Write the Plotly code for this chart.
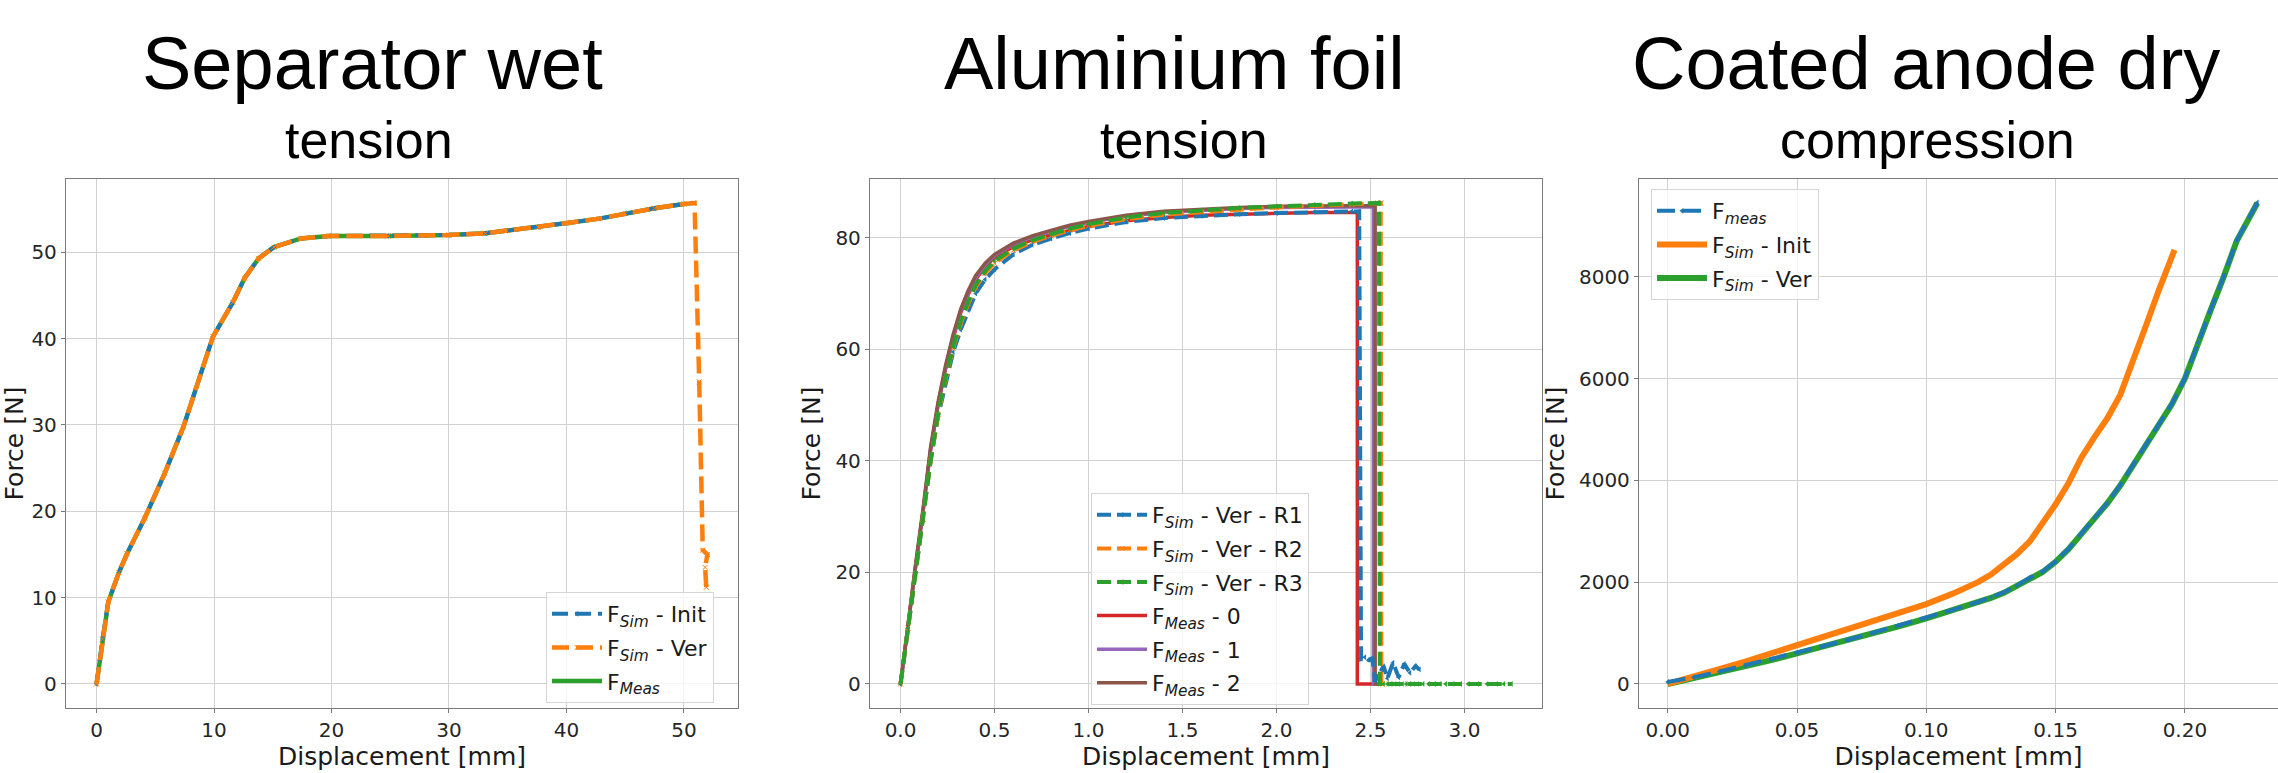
import plotly.graph_objects as go

# ---------------- data ----------------
# Separator wet (tension)
sep_x = [0, 0.5, 1.0, 1.9, 2.6, 4.1, 5.8, 7.4, 9.9, 11.6, 12.6, 13.8, 15.1, 17.4, 19.8,
         24.8, 30.0, 33.1, 34.9, 37.6, 40.1, 42.8, 45.0, 47.5, 50.0, 50.9]
sep_f = [0, 5.2, 9.5, 12.9, 15.1, 19.2, 24.4, 29.8, 40.2, 44.2, 47.0, 49.3, 50.6, 51.6, 51.9,
         51.9, 52.0, 52.2, 52.5, 52.9, 53.4, 53.9, 54.5, 55.1, 55.6, 55.7]
sep_ver_tail_x = [51.3, 51.6, 52.0, 51.8, 51.9]
sep_ver_tail_f = [35.0, 15.5, 15.0, 13.5, 11.2]

# Aluminium foil (tension)
al_x = [0, 0.04, 0.08, 0.12, 0.16, 0.2, 0.24, 0.28, 0.32, 0.36, 0.4, 0.45, 0.5, 0.6, 0.7,
        0.8, 0.9, 1.0, 1.2, 1.4, 1.6, 1.8, 2.0, 2.2, 2.4]
al_r1_f = [0, 10, 19.5, 29.5, 40, 48, 54, 59.5, 63.5, 67, 70, 72.5, 74.3, 77, 78.7,
           79.8, 80.8, 81.6, 82.8, 83.5, 83.9, 84.2, 84.4, 84.6, 84.7]
al_r2_f = [0, 10, 19.5, 29.5, 40, 48.3, 54.7, 60.2, 64.6, 68.1, 71.1, 73.6, 75.4, 77.7, 79.2,
           80.3, 81.3, 82.1, 83.3, 84.1, 84.6, 85.0, 85.4, 85.7, 85.9]
al_r3_f = [0, 10, 19.5, 29.5, 40, 48.5, 55, 60.5, 65, 68.5, 71.5, 74, 75.8, 78, 79.5,
           80.6, 81.6, 82.4, 83.6, 84.4, 84.9, 85.3, 85.6, 85.9, 86.1]
al_m0_f = [0, 11, 21, 31, 42, 50, 56.5, 62, 66.5, 69.8, 72.5, 74.8, 76.4, 78.4, 79.6,
           80.5, 81.3, 82.0, 83.0, 83.6, 84.0, 84.2, 84.4, 84.5, 84.5]
al_m1_f = [0, 11, 21, 31, 42, 50.2, 56.8, 62.3, 66.8, 70.1, 72.8, 75.1, 76.8, 78.8, 80.1,
           81.1, 82.0, 82.7, 83.8, 84.5, 84.9, 85.2, 85.4, 85.5, 85.5]
al_m2_f = [0, 11, 21.5, 31.5, 42.5, 50.6, 57.2, 62.7, 67.2, 70.5, 73.2, 75.4, 77.0, 79.0, 80.3,
           81.3, 82.2, 82.9, 84.0, 84.7, 85.1, 85.4, 85.6, 85.7, 85.7]
al_r1_tail_x = [2.44, 2.45, 2.47, 2.49, 2.51, 2.525, 2.54, 2.57, 2.59, 2.62, 2.65, 2.68, 2.71, 2.74, 2.76]
al_r1_tail_f = [84.7, 4.5, 4.8, 4.3, 4.6, 0.5, 1.5, 3.2, 1.0, 3.8, 1.2, 3.6, 2.0, 3.2, 2.6]
al_r2_tail_x = [2.54, 2.555, 2.558, 2.6, 2.7]
al_r2_tail_f = [86.2, 86.2, 0, 0, 0]
al_r3_tail_x = [2.54, 2.545, 2.55, 2.57, 2.59, 2.61, 2.63, 2.65, 2.67, 2.69, 2.71, 2.73, 2.75,
                2.78, 2.81, 2.84, 2.87, 2.9, 2.94, 2.98, 3.02, 3.07, 3.12, 3.17, 3.21, 3.25]
al_r3_tail_f = [86.2, 86.2, 0, 0, 0, 0, 0, 0, 0, 0, 0, 0, 0,
                0, 0, 0, 0, 0, 0, 0, 0, 0, 0, 0, 0, 0]
al_m0_tail_x = [2.43, 2.43, 2.54]
al_m0_tail_f = [84.5, 0, 0]
al_m1_tail_x = [2.515, 2.515, 2.55]
al_m1_tail_f = [85.5, 0, 0]
al_m2_tail_x = [2.525, 2.525, 2.55]
al_m2_tail_f = [85.7, 0, 0]

# Coated anode dry (compression)
an_init_x = [0, 0.01, 0.02, 0.03, 0.04, 0.05, 0.06, 0.07, 0.08, 0.09, 0.10, 0.11, 0.12,
             0.125, 0.13, 0.135, 0.14, 0.145, 0.15, 0.155, 0.16, 0.165, 0.17, 0.175,
             0.18, 0.185, 0.19, 0.196]
an_init_f = [0, 140, 290, 440, 600, 760, 920, 1080, 1240, 1400, 1570, 1770, 2000,
             2150, 2350, 2550, 2800, 3150, 3530, 3950, 4450, 4850, 5220, 5680,
             6400, 7050, 7750, 8530]
an_ver_x = [0, 0.01, 0.02, 0.03, 0.04, 0.05, 0.06, 0.07, 0.08, 0.09, 0.10, 0.11, 0.12,
            0.125, 0.13, 0.135, 0.14, 0.145, 0.15, 0.155, 0.16, 0.165, 0.17, 0.175,
            0.18, 0.185, 0.19, 0.195, 0.20, 0.205, 0.21, 0.215, 0.22, 0.228]
an_ver_f = [0, 110, 230, 350, 470, 600, 730, 860, 1000, 1140, 1290, 1440, 1600,
            1690, 1790, 1920, 2080, 2200, 2400, 2650, 2950, 3250, 3550, 3900,
            4300, 4700, 5100, 5500, 6000, 6700, 7350, 8000, 8700, 9450]
an_meas_x = an_ver_x
an_meas_f = [40, 130, 245, 365, 485, 612, 742, 872, 1012, 1152, 1302, 1452, 1612,
             1702, 1802, 1930, 2090, 2210, 2410, 2660, 2960, 3260, 3560, 3910,
             4310, 4710, 5110, 5510, 6010, 6710, 7360, 8010, 8710, 9460]

BLUE, ORANGE, GREEN = "#1f77b4", "#ff7f0e", "#2ca02c"
RED, PURPLE, BROWN = "#d62728", "#9467bd", "#8c564b"

SIM = "F<sub><i>Sim</i></sub>"
MEAS = "F<sub><i>Meas</i></sub>"

fig = go.Figure()


def add(x, y, name, color, width, dash="solid", marker=None, xa="x", ya="y", legend="legend", rank=1):
    mode = "lines+markers" if marker else "lines"
    fig.add_trace(go.Scatter(
        x=x, y=y, name=name, mode=mode, xaxis=xa, yaxis=ya, legend=legend,
        legendrank=rank, legendgroup=legend + str(rank),
        line=dict(color=color, width=width, dash=dash),
        marker=dict(symbol=marker or "circle", size=5, color=color, line=dict(width=0)),
    ))


# panel 1
add(sep_x[:-1], sep_f[:-1], MEAS, GREEN, 4.5, rank=3)
add(sep_x, sep_f, SIM + " - Init", BLUE, 4, "16px,7px", "triangle-left", rank=1)
add(sep_x + sep_ver_tail_x, sep_f + sep_ver_tail_f, SIM + " - Ver", ORANGE, 4.5, "17px,7px", "x-thin-open", rank=2)

# panel 2
L2 = "legend2"
add(al_x + al_m0_tail_x, al_m0_f + al_m0_tail_f, MEAS + " - 0", RED, 3.5, xa="x2", ya="y2", legend=L2, rank=4)
add(al_x + al_m1_tail_x, al_m1_f + al_m1_tail_f, MEAS + " - 1", PURPLE, 3.5, xa="x2", ya="y2", legend=L2, rank=5)
add(al_x + al_m2_tail_x, al_m2_f + al_m2_tail_f, MEAS + " - 2", BROWN, 3.5, xa="x2", ya="y2", legend=L2, rank=6)
add(al_x + al_r1_tail_x, al_r1_f + al_r1_tail_f, SIM + " - Ver - R1", BLUE, 4, "14px,6px", "triangle-left",
    xa="x2", ya="y2", legend=L2, rank=1)
add(al_x + al_r2_tail_x, al_r2_f + al_r2_tail_f, SIM + " - Ver - R2", ORANGE, 4, "14px,6px", "x-thin-open",
    xa="x2", ya="y2", legend=L2, rank=2)
add(al_x + al_r3_tail_x, al_r3_f + al_r3_tail_f, SIM + " - Ver - R3", GREEN, 4, "14px,6px", "triangle-left",
    xa="x2", ya="y2", legend=L2, rank=3)

# panel 3
L3 = "legend3"
add(an_ver_x, an_ver_f, SIM + " - Ver", GREEN, 6, xa="x3", ya="y3", legend=L3, rank=3)
add(an_init_x, an_init_f, SIM + " - Init", ORANGE, 6, xa="x3", ya="y3", legend=L3, rank=2)
add(an_meas_x, an_meas_f, "F<sub><i>meas</i></sub>", BLUE, 4, "18px,8px", "triangle-left",
    xa="x3", ya="y3", legend=L3, rank=1)

W, H = 2278, 773
TICKFONT = dict(family="DejaVu Sans", size=20, color="#262626")
TITLEFONT = dict(family="DejaVu Sans", size=25, color="#1a1a1a")


def ax(domain, rng, dtick, fmt, title, standoff, mirror=True):
    return dict(domain=domain, range=rng, dtick=dtick, tick0=0, tickformat=fmt,
                showline=True, linecolor="#7a7a7a", linewidth=1.3, mirror=mirror,
                ticks="outside", ticklen=4, tickcolor="#7a7a7a", tickwidth=1.2,
                showgrid=True, gridcolor="#d2d2d2", gridwidth=1.4, zeroline=False,
                tickfont=TICKFONT, title=dict(text=title, font=TITLEFONT, standoff=standoff),
                automargin=False, fixedrange=True)


ydom = [1 - 708 / H, 1 - 179 / H]
d1 = [66 / W, 738 / W]
d2 = [870 / W, 1542 / W]
d3 = [1639 / W, 1.0]

fig.update_layout(
    width=W, height=H, margin=dict(l=0, r=0, t=0, b=0),
    paper_bgcolor="white", plot_bgcolor="white", showlegend=True,
    xaxis=ax(d1, [-2.6, 54.6], 10, "d", "Displacement [mm]", 4),
    yaxis=ax(ydom, [-2.785, 58.49], 10, "d", "Force [N]", 7),
    xaxis2=ax(d2, [-0.1625, 3.4125], 0.5, ".1f", "Displacement [mm]", 4),
    yaxis2=ax(ydom, [-4.31, 90.5], 20, "d", "Force [N]", 7),
    xaxis3=ax(d3, [-0.0111, 0.236], 0.05, ".2f", "Displacement [mm]", 4),
    yaxis3=ax(ydom, [-472, 9922], 2000, "d", "Force [N]", 7),
)
fig.layout.xaxis.anchor = "y"
fig.layout.yaxis.anchor = "x"
fig.layout.xaxis2.anchor = "y2"
fig.layout.yaxis2.anchor = "x2"
fig.layout.xaxis3.anchor = "y3"
fig.layout.yaxis3.anchor = "x3"

LEGFONT = dict(family="DejaVu Sans", size=22, color="#1a1a1a")
for key, lx, ly in [("legend", 546, 592), ("legend2", 1091, 493), ("legend3", 1651, 189)]:
    fig.layout[key] = dict(x=lx / W, y=1 - ly / H, xanchor="left", yanchor="top",
                           bgcolor="rgba(255,255,255,0.8)", bordercolor="#d5d5d5", borderwidth=1,
                           font=LEGFONT, tracegroupgap=2, itemwidth=50, traceorder="grouped")

titles = [("Separator wet", "tension", 372, 369),
          ("Aluminium foil", "tension", 1174, 1184),
          ("Coated anode dry", "compression", 1926, 1927)]
for t, s, tx, sx in titles:
    fig.add_annotation(text=t, x=tx / W, y=1 - 64 / H, xref="paper", yref="paper", showarrow=False,
                       xanchor="center", yanchor="middle",
                       font=dict(family="Liberation Sans", size=74, color="black"))
    fig.add_annotation(text=s, x=sx / W, y=1 - 140 / H, xref="paper", yref="paper", showarrow=False,
                       xanchor="center", yanchor="middle",
                       font=dict(family="Liberation Sans", size=52, color="black"))

fig.write_html("out.html", config={"displayModeBar": False})
